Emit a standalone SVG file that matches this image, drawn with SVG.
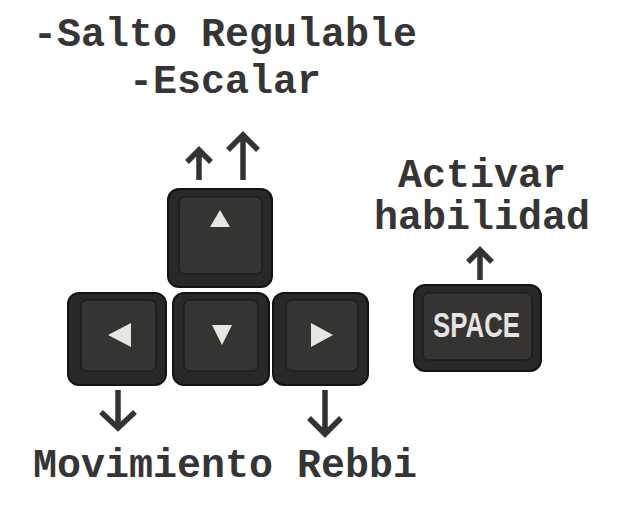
<svg xmlns="http://www.w3.org/2000/svg" width="619" height="531" viewBox="0 0 619 531">
<defs>
<style>
.lbl{font-family:"Liberation Mono","Courier New",monospace;font-weight:bold;font-size:40px;fill:#353535;text-anchor:middle}
.cap{fill:#2a2826;stroke:#151311;stroke-width:2}
.face{fill:#363432;stroke:#1f1d1b;stroke-width:1.5}
.sym{fill:#e8e6e3}
.arr{fill:none;stroke:#333;stroke-width:5.5;stroke-linejoin:miter}
.key{font-family:"Liberation Sans",Arial,sans-serif;font-weight:bold;font-size:35px;fill:#e6e4e0}
</style>
</defs>
<rect width="619" height="531" fill="#fff"/>
<g id="title">
<text class="lbl" x="225" y="46">-Salto Regulable</text>
<text class="lbl" x="225" y="93">-Escalar</text>
</g>
<g id="label-space">
<text class="lbl" x="482" y="187">Activar</text>
<text class="lbl" x="482" y="229">habilidad</text>
</g>
<g id="label-move">
<text class="lbl" x="225" y="477">Movimiento Rebbi</text>
</g>
<g id="key-up">
<rect class="cap" x="168" y="189" width="104" height="98" rx="11"/>
<rect class="face" x="179" y="197" width="83" height="77" rx="6"/>
<polygon class="sym" points="220,210 230,227 210,227"/>
</g>
<g id="key-left">
<rect class="cap" x="68" y="293" width="98" height="92" rx="11"/>
<rect class="face" x="81" y="300" width="75" height="71" rx="6"/>
<polygon class="sym" points="108,335 131,323 131,347"/>
</g>
<g id="key-down">
<rect class="cap" x="173" y="293" width="96" height="92" rx="11"/>
<rect class="face" x="184" y="300" width="74" height="71" rx="6"/>
<polygon class="sym" points="212,325 232,325 222,345"/>
</g>
<g id="key-right">
<rect class="cap" x="273" y="293" width="95" height="92" rx="11"/>
<rect class="face" x="286" y="300" width="72" height="71" rx="6"/>
<polygon class="sym" points="311,323 333,335 311,347"/>
</g>
<g id="key-space">
<rect class="cap" x="414" y="285" width="127" height="86" rx="11"/>
<rect class="face" x="423" y="293" width="109" height="67" rx="6"/>
<text class="key" x="433" y="337" textLength="87" lengthAdjust="spacingAndGlyphs">SPACE</text>
</g>
<g id="connectors">
<path class="arr" d="M199,180 V149 M187,162 L199,150 L211,162"/>
<path class="arr" d="M243,180 V135 M228,150 L243,135 L258,150"/>
<path class="arr" d="M480,280 V250 M468,262 L480,250 L492,262"/>
<path class="arr" d="M118,390 V428 M101,412 L118,428 L135,412"/>
<path class="arr" d="M325,390 V434 M309,418 L325,434 L341,418"/>
</g>
</svg>
